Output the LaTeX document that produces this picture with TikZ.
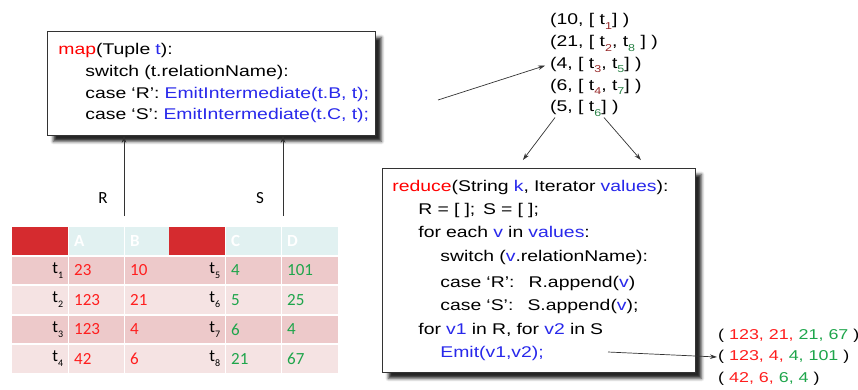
\documentclass[tikz,border=0pt]{standalone}
\usepackage{fontspec}
\setmainfont{Liberation Sans}
\newfontfamily\codefont[FakeStretch=1.25]{Liberation Sans}
\newfontfamily\tablefont{Carlito}
\usetikzlibrary{matrix}
\usetikzlibrary{arrows.meta}
\usetikzlibrary{shadows.blur}
\definecolor{kwred}{RGB}{255,0,0}
\definecolor{kwblue}{RGB}{40,40,235}
\definecolor{cellred}{RGB}{213,43,47}
\definecolor{cellcyan}{RGB}{225,241,241}
\definecolor{rowdark}{RGB}{237,201,202}
\definecolor{rowlight}{RGB}{245,227,227}
\definecolor{valred}{RGB}{255,30,30}
\definecolor{valgreen}{RGB}{30,165,75}
\definecolor{subred}{RGB}{150,40,40}
\definecolor{subgreen}{RGB}{40,130,70}
\newcommand{\kr}[1]{\textcolor{kwred}{#1}}
\newcommand{\kb}[1]{\textcolor{kwblue}{#1}}
\newcommand{\valR}[1]{\textcolor{valred}{#1}}
\newcommand{\valS}[1]{\textcolor{valgreen}{#1}}
\newcommand{\tsub}[1]{\raisebox{-0.6ex}{\fontsize{10}{10}\selectfont #1}}
\newcommand{\rsub}[1]{\raisebox{-0.55ex}{\fontsize{10}{10}\selectfont\color{subred}#1}}
\newcommand{\ssub}[1]{\raisebox{-0.55ex}{\fontsize{10}{10}\selectfont\color{subgreen}#1}}
\tikzset{%
    codebox/.style={%
        draw=black!80,%
        line width=0.8pt,%
        fill=white,%
        anchor=north west,%
        align=left,%
        inner xsep=5pt,%
        blur shadow={shadow xshift=6pt, shadow yshift=-6pt, shadow blur radius=3pt, shadow opacity=85}%
    },%
    flow/.style={%
        draw=black!80,%
        line width=0.7pt,%
        -{Stealth[length=7pt,width=4.5pt]}%
    },%
    relname/.style={%
        font=\tablefont\fontsize{17}{17}\selectfont%
    },%
    rel/.style={%
        matrix of nodes,%
        nodes in empty cells,%
        anchor=north west,%
        inner sep=0pt,%
        row sep=2pt,%
        column sep=1pt,%
        nodes={minimum height=27.5pt, inner xsep=5pt, inner ysep=0pt, anchor=center,%
            font=\tablefont\fontsize{17}{17}\selectfont},%
        column 1/.style={nodes={text width=46pt, align=right}},%
        column 2/.style={nodes={text width=45pt, align=left, text=valred}},%
        column 3/.style={nodes={text width=34pt, align=left, text=valred}},%
        column 4/.style={nodes={text width=46pt, align=right}},%
        column 5/.style={nodes={text width=45pt, align=left, text=valgreen}},%
        column 6/.style={nodes={text width=46pt, align=left, text=valgreen}},%
        row 1/.style={nodes={fill=cellcyan, text=white, font=\tablefont\bfseries\fontsize{17}{17}\selectfont}},%
        row 2/.style={nodes={fill=rowdark}},%
        row 3/.style={nodes={fill=rowlight}},%
        row 4/.style={nodes={fill=rowdark}},%
        row 5/.style={nodes={fill=rowlight}},%
        row 1 column 1/.style={nodes={fill=cellred}},%
        row 1 column 4/.style={nodes={fill=cellred}}%
    }%
}

\begin{document}
\begin{tikzpicture}[x=1pt, y=-1pt]
    \useasboundingbox (0,0) rectangle (858,389);
    \node[codebox, minimum height=104pt, text width=318pt,
        font=\codefont\fontsize{15.5}{21.7}\selectfont] (map) at (47,31) {%
        \hspace*{6pt}\kr{map}(Tuple \kb{t}):\\
        \hspace*{33pt}switch (t.relationName):\\
        \hspace*{33pt}case ‘R’: \kb{EmitIntermediate(t.B, t);}\\
        \hspace*{33pt}case ‘S’: \kb{EmitIntermediate(t.C, t);}%
    };
    \node[codebox, minimum height=204pt, text width=303pt,
        font=\codefont\fontsize{15.5}{23.3}\selectfont] (reduce) at (382,168) {%
        \hspace*{5pt}\kr{reduce}(String \kb{k}, Iterator \kb{values}):\\
        \hspace*{31pt}R = [ ];\enspace S = [ ];\\
        \hspace*{31pt}for each \kb{v} in \kb{values}:\\
        \hspace*{53pt}switch (\kb{v}.relationName):\\[3pt]
        \hspace*{53pt}case ‘R’:\hspace*{9pt} R.append(\kb{v})\\
        \hspace*{53pt}case ‘S’:\hspace*{9pt} S.append(\kb{v});\\
        \hspace*{31pt}for \kb{v1} in R, for \kb{v2} in S\\
        \hspace*{53pt}\kb{Emit(v1,v2);}%
    };
    \node[anchor=west, align=left, inner sep=3pt,
        font=\codefont\fontsize{15.5}{21.7}\selectfont] (pairs) at (547,65) {%
        (10, [ t\rsub{1}] )\\
        (21, [ t\rsub{2}, t\ssub{8} ] )\\
        (4, [ t\rsub{3}, t\ssub{5}] )\\
        (6, [ t\rsub{4}, t\ssub{7}] )\\
        (5, [ t\ssub{6}] )%
    };
    \node[anchor=west, align=left, inner sep=1pt,
        font=\codefont\fontsize{14.3}{21.5}\selectfont] (joined) at (717,357) {%
        ( \valR{123, 21,} \valS{21, 67} )\\
        ( \valR{123, 4,} \valS{4, 101} )\\
        ( \valR{42, 6,} \valS{6, 4} )%
    };
    \matrix[rel] (rel) at (12,227) {
        {} & A & B &[-1pt] {} & C & D
        \\
        t\tsub{1} & 23 & 10 & t\tsub{5} & 4 & 101
        \\
        t\tsub{2} & 123 & 21 & t\tsub{6} & 5 & 25
        \\
        t\tsub{3} & 123 & 4 & t\tsub{7} & 6 & 4
        \\
        t\tsub{4} & 42 & 6 & t\tsub{8} & 21 & 67
        \\
    };
    \node[relname] (rlabel) at (103,198) {R};
    \node[relname] (slabel) at (260,198) {S};
    \coordinate (rfoot) at (124,216);
    \coordinate (sfoot) at (283,216);
    \coordinate (mapfeed) at (438,100);
    \coordinate (emitend) at (608,352);
    \draw[flow] (rfoot) -- (rfoot |- map.south);
    \draw[flow] (sfoot) -- (sfoot |- map.south);
    \draw[flow, shorten >=2pt] (mapfeed) -- (pairs.west);
    \draw[flow] ([xshift=8pt, yshift=2pt]pairs.south west) -- ([xshift=-16pt, yshift=8pt]reduce.north);
    \draw[flow] ([yshift=2pt]pairs.south) -- ([xshift=102pt, yshift=8pt]reduce.north);
    \draw[flow] (emitend) -- (joined.west);
\end{tikzpicture}
\end{document}
